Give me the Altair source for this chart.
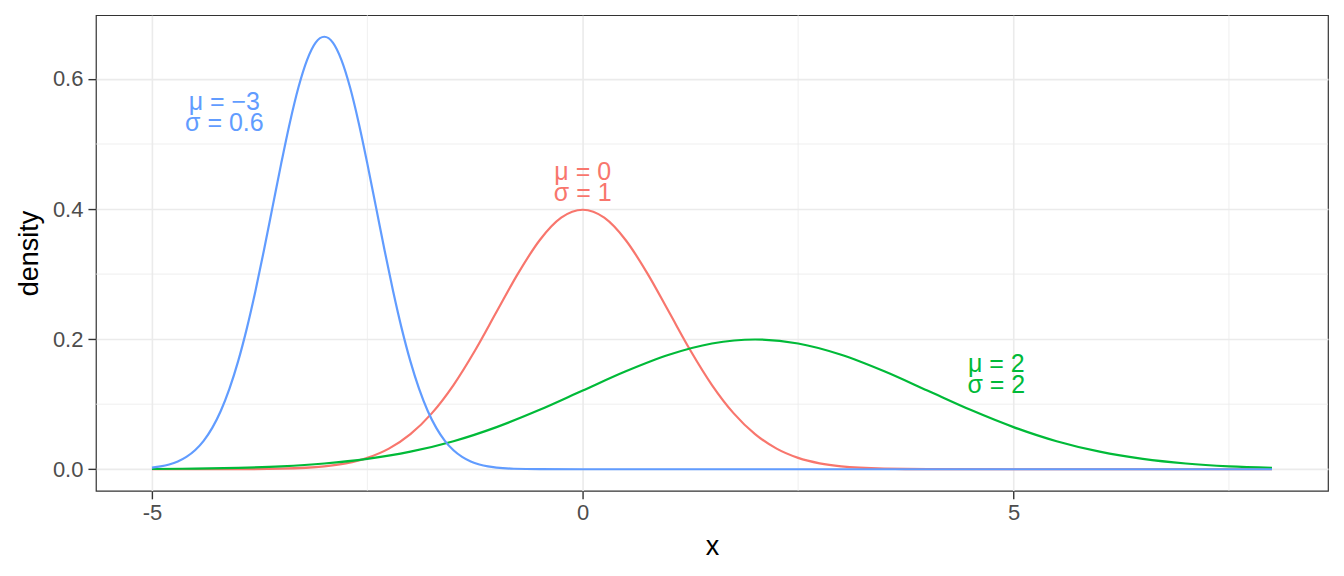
import altair as alt
import pandas as pd

# Red curve (mu = 0, sigma = 1)
red_x = [-5, -4, -3.5, -3, -2.75, -2.5, -2.25, -2, -1.75, -1.5, -1.25, -1, -0.75, -0.5, -0.25, 0,
         0.25, 0.5, 0.75, 1, 1.25, 1.5, 1.75, 2, 2.25, 2.5, 2.75, 3, 3.5, 4, 5, 6, 7, 8]
red_y = [0.0000, 0.0001, 0.0009, 0.0044, 0.0091, 0.0175, 0.0317, 0.0540, 0.0863, 0.1295, 0.1826,
         0.2420, 0.3011, 0.3521, 0.3867, 0.3989, 0.3867, 0.3521, 0.3011, 0.2420, 0.1826, 0.1295,
         0.0863, 0.0540, 0.0317, 0.0175, 0.0091, 0.0044, 0.0009, 0.0001, 0.0, 0.0, 0.0, 0.0]

# Green curve (mu = 2, sigma = 2)
green_x = [-5, -4.5, -4, -3.5, -3, -2.5, -2, -1.5, -1, -0.5, 0, 0.5, 1, 1.5, 2,
           2.5, 3, 3.5, 4, 4.5, 5, 5.5, 6, 6.5, 7, 7.5, 8]
green_y = [0.0004, 0.0010, 0.0022, 0.0045, 0.0088, 0.0159, 0.0270, 0.0431, 0.0648, 0.0913,
           0.1210, 0.1506, 0.1760, 0.1933, 0.1995, 0.1933, 0.1760, 0.1506, 0.1210, 0.0913,
           0.0648, 0.0431, 0.0270, 0.0159, 0.0088, 0.0045, 0.0022]

# Blue curve (mu = -3, sigma = 0.6)
blue_x = [-5, -4.9, -4.8, -4.7, -4.6, -4.5, -4.4, -4.3, -4.2, -4.1, -4.0, -3.9, -3.8, -3.7, -3.6,
          -3.5, -3.4, -3.3, -3.2, -3.1, -3.0, -2.9, -2.8, -2.7, -2.6, -2.5, -2.4, -2.3, -2.2,
          -2.1, -2.0, -1.9, -1.8, -1.7, -1.6, -1.5, -1.4, -1.3, -1.2, -1.1, -1.0, -0.8, -0.5,
          0, 8]
blue_y = [0.0026, 0.0044, 0.0074, 0.0120, 0.0190, 0.0292, 0.0437, 0.0636, 0.0900, 0.1239,
          0.1658, 0.2158, 0.2733, 0.3366, 0.4033, 0.4698, 0.5324, 0.5868, 0.6290, 0.6559,
          0.6649, 0.6559, 0.6290, 0.5868, 0.5324, 0.4698, 0.4033, 0.3366, 0.2733, 0.2158,
          0.1658, 0.1239, 0.0900, 0.0636, 0.0437, 0.0292, 0.0190, 0.0120, 0.0074, 0.0044,
          0.0026, 0.0008, 0.0001, 0.0, 0.0]

# Labels (one two-line label per curve; y = first-line baseline in data units)
label_series = ["blue", "red", "green"]
label_x = [-4.16, 0.0, 4.8]
label_y = [0.5524, 0.4450, 0.1495]
label_text = ["μ = \u22123\nσ = 0.6", "μ = 0\nσ = 1", "μ = 2\nσ = 2"]

minor_x = [-2.5, 2.5, 7.5]
minor_y = [0.1, 0.3, 0.5]

colors = {"red": "#F8766D", "green": "#00BA38", "blue": "#619CFF"}

FONT = "Liberation Sans"
xscale = alt.Scale(domain=[-5.65, 8.65], nice=False, zero=False)
yscale = alt.Scale(domain=[-0.0332, 0.698], nice=False, zero=False)

xaxis = alt.Axis(values=[-5, 0, 5], labelExpr="datum.value == -5 ? '-5' : datum.label",
                 title="x", grid=True)
yaxis = alt.Axis(values=[0, 0.2, 0.4, 0.6], format=".1f", title="density", grid=True)

minor_v = alt.Chart(pd.DataFrame({"x": minor_x})).mark_rule(
    color="#EBEBEB", strokeWidth=0.8).encode(x=alt.X("x:Q", scale=xscale, axis=xaxis))
minor_h = alt.Chart(pd.DataFrame({"y": minor_y})).mark_rule(
    color="#EBEBEB", strokeWidth=0.8).encode(y=alt.Y("y:Q", scale=yscale, axis=yaxis))

def curve(xs, ys, col):
    df = pd.DataFrame({"x": xs, "y": ys})
    return alt.Chart(df).mark_line(color=col, strokeWidth=2.2, interpolate="monotone").encode(
        x=alt.X("x:Q", scale=xscale, axis=xaxis),
        y=alt.Y("y:Q", scale=yscale, axis=yaxis),
    )

lab_df = pd.DataFrame({"s": label_series, "x": label_x, "y": label_y, "t": label_text})
labels = alt.Chart(lab_df).mark_text(font=FONT, fontSize=25, align="center",
                                     baseline="alphabetic", lineBreak="\n",
                                     lineHeight=21).encode(
    x=alt.X("x:Q", scale=xscale, axis=xaxis),
    y=alt.Y("y:Q", scale=yscale, axis=yaxis),
    text="t:N",
    color=alt.Color("s:N", scale=alt.Scale(domain=list(colors.keys()),
                                          range=list(colors.values())), legend=None),
)

chart = alt.layer(
    minor_v, minor_h,
    curve(red_x, red_y, colors["red"]),
    curve(green_x, green_y, colors["green"]),
    curve(blue_x, blue_y, colors["blue"]),
    labels,
).properties(
    width=1233, height=476,
    autosize=alt.AutoSizeParams(type="none"),
    padding={"left": 88, "top": 7, "right": 8, "bottom": 70},
).configure_view(
    stroke="#333333", strokeWidth=1.2
).configure_axis(
    labelFont=FONT, titleFont=FONT, labelFontSize=22, titleFontSize=27,
    labelColor="#4D4D4D", titleColor="#000000", titleFontWeight="normal",
    tickColor="#333333", tickSize=8, tickWidth=1.4, labelPadding=4,
    domain=False, gridColor="#EBEBEB", gridWidth=1.6,
).configure_axisX(titlePadding=10).configure_axisY(titlePadding=9, labelPadding=5)

chart.save("out.html", embed_options={"renderer": "svg", "actions": False})
